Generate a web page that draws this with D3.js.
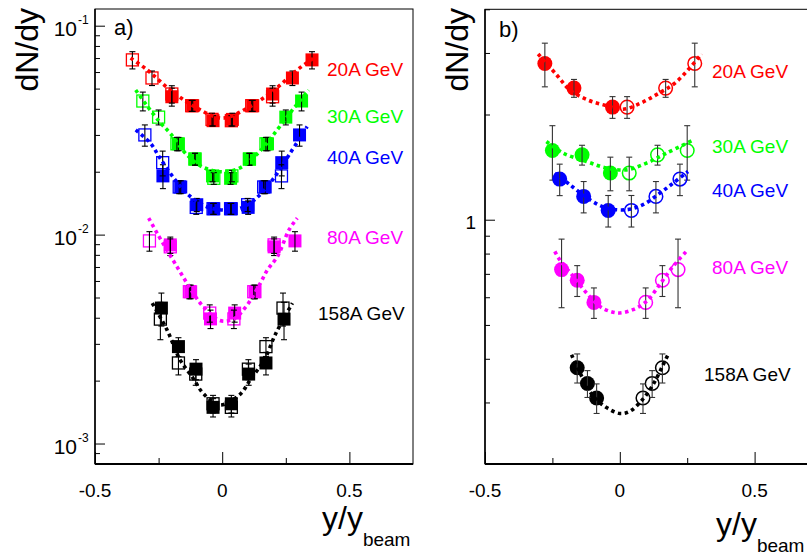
<!DOCTYPE html>
<meta charset="utf-8">
<style>
body { margin: 0; background: #fff; }
svg { display: block; font-family: "Liberation Sans", Arial, sans-serif; }
.frame { fill: none; stroke: #000; stroke-width: 1px; }
.axis path { display: none; }
.axis line { stroke: #000; stroke-width: 1px; }
.fit { fill: none; stroke-width: 3.6px; stroke-dasharray: 3.5 3.5; }
</style>
<svg width="807" height="558"></svg>
<script src="https://d3js.org/d3.v7.min.js"></script>
<script>
// ---- data ---------------------------------------------------------------
var energies = ["20A GeV", "30A GeV", "40A GeV", "80A GeV", "158A GeV"];
var colors = ["#ff0000", "#00ff00", "#0000ff", "#ff00ff", "#000000"];

// panel a) measured points (filled squares); open squares = reflection at y=0
var a_x_20 = [-0.198, -0.116, -0.036, 0.040, 0.120, 0.198, 0.276, 0.353];
var a_y_20 = [0.0457, 0.0414, 0.0351, 0.0356, 0.0414, 0.0471, 0.0562, 0.0686];
var a_e_20 = [0.0045, 0.0025, 0.0020, 0.0025, 0.0025, 0.0045, 0.0045, 0.0065];
var a_x_30 = [-0.172, -0.107, -0.038, 0.033, 0.107, 0.178, 0.250, 0.312];
var a_y_30 = [0.0272, 0.0230, 0.0191, 0.0186, 0.0230, 0.0272, 0.0365, 0.0436];
var a_e_30 = [0.0020, 0.0015, 0.0012, 0.0012, 0.0015, 0.0020, 0.0030, 0.0045];
var a_x_40 = [-0.233, -0.163, -0.100, -0.033, 0.036, 0.102, 0.169, 0.234, 0.304];
var a_y_40 = [0.0191, 0.0169, 0.0139, 0.0133, 0.0133, 0.0135, 0.0169, 0.0221, 0.0300];
var a_e_40 = [0.0025, 0.0012, 0.0010, 0.0008, 0.0008, 0.0010, 0.0012, 0.0030, 0.0035];
var a_x_80 = [-0.204, -0.124, -0.046, 0.049, 0.129, 0.204, 0.286];
var a_y_80 = [0.00893, 0.00533, 0.00395, 0.00421, 0.00533, 0.00874, 0.00933];
var a_e_80 = [0.0008, 0.0004, 0.0004, 0.0004, 0.0004, 0.0008, 0.0010];
var a_x_158 = [-0.239, -0.172, -0.103, -0.036, 0.036, 0.104, 0.172, 0.243];
var a_y_158 = [0.00445, 0.00291, 0.00227, 0.00149, 0.00155, 0.00215, 0.00243, 0.00394];
var a_e_158 = [0.0008, 0.0003, 0.00025, 0.00015, 0.00015, 0.00025, 0.0003, 0.0008];

// panel a) fit curves
var a_fx_20 = [-0.36, -0.30, -0.20, -0.10, 0.00, 0.10, 0.20, 0.30, 0.36];
var a_fy_20 = [0.0700, 0.0621, 0.0488, 0.0404, 0.0361, 0.0404, 0.0488, 0.0621, 0.0700];
var a_fx_30 = [-0.34, -0.295, -0.243, -0.204, -0.139, -0.075, 0.00, 0.068, 0.146, 0.198, 0.276, 0.34];
var a_fy_30 = [0.0492, 0.0413, 0.0343, 0.0305, 0.0241, 0.0210, 0.0200, 0.0208, 0.0249, 0.0297, 0.0395, 0.0492];
var a_fx_40 = [-0.34, -0.282, -0.246, -0.185, -0.133, -0.061, 0.016, 0.081, 0.133, 0.198, 0.263, 0.334];
var a_fy_40 = [0.0317, 0.0274, 0.0234, 0.0183, 0.0155, 0.0136, 0.0131, 0.0135, 0.0149, 0.0183, 0.0241, 0.0329];
var a_fx_80 = [-0.289, -0.256, -0.178, -0.114, -0.075, -0.010, 0.042, 0.094, 0.146, 0.178, 0.217, 0.263, 0.295];
var a_fy_80 = [0.0120, 0.01016, 0.00703, 0.00525, 0.00453, 0.00388, 0.00393, 0.00453, 0.00574, 0.00678, 0.00785, 0.01055, 0.0120];
var a_fx_158 = [-0.275, -0.217, -0.165, -0.114, -0.075, -0.010, 0.068, 0.114, 0.165, 0.211, 0.276];
var a_fy_158 = [0.00470, 0.00350, 0.00251, 0.00205, 0.00174, 0.00153, 0.00171, 0.00205, 0.00251, 0.00337, 0.00470];

// panel b) measured points (filled circles); open circles = reflection at y=0
var b_x_20 = [-0.278, -0.170, -0.027];
var b_y_20 = [2.80, 2.38, 2.10];
var b_e_20 = [0.40, 0.14, 0.15];
var b_x_30 = [-0.250, -0.140, -0.035];
var b_y_30 = [1.578, 1.533, 1.36];
var b_e_30 = [0.28, 0.10, 0.15];
var b_x_40 = [-0.223, -0.134, -0.043];
var b_y_40 = [1.307, 1.166, 1.063];
var b_e_40 = [0.135, 0.12, 0.11];
var b_x_80 = [-0.216, -0.158, -0.096];
var b_y_80 = [0.72, 0.671, 0.58];
var b_e_80 = [0.16, 0.068, 0.058];
var b_x_158 = [-0.158, -0.120, -0.086];
var b_y_158 = [0.377, 0.340, 0.309];
var b_e_158 = [0.036, 0.030, 0.030];

// panel b) fit curves
var b_fx_20 = [-0.303, -0.235, -0.185, -0.118, -0.049, 0.012, 0.074, 0.136, 0.21, 0.303];
var b_fy_20 = [2.98, 2.60, 2.35, 2.20, 2.12, 2.07, 2.15, 2.28, 2.48, 2.98];
var b_fx_30 = [-0.272, -0.21, -0.124, -0.049, 0.025, 0.099, 0.173, 0.272];
var b_fy_30 = [1.674, 1.55, 1.468, 1.405, 1.389, 1.452, 1.55, 1.69];
var b_fx_40 = [-0.241, -0.185, -0.111, -0.049, 0.025, 0.086, 0.148, 0.198, 0.253];
var b_fy_40 = [1.36, 1.259, 1.14, 1.08, 1.068, 1.104, 1.19, 1.273, 1.374];
var b_fx_80 = [-0.241, -0.223, -0.173, -0.124, -0.074, -0.037, 0.00, 0.049, 0.099, 0.148, 0.198, 0.247];
var b_fy_80 = [0.812, 0.768, 0.689, 0.618, 0.565, 0.547, 0.541, 0.553, 0.584, 0.652, 0.736, 0.812];
var b_fx_158 = [-0.179, -0.148, -0.099, -0.049, 0.00, 0.037, 0.08, 0.124, 0.161, 0.179];
var b_fy_158 = [0.411, 0.365, 0.313, 0.290, 0.279, 0.283, 0.303, 0.338, 0.385, 0.411];

var xMajor = [-0.5, 0, 0.5];
var xMinor = [-0.25, 0.25];
var xTickLabels = ["-0.5", "0", "0.5"];
var a_yMajor = [0.1, 0.01, 0.001];
var a_yExp = ["-1", "-2", "-3"];
var b_yMajor = [1];
var b_yLabels = ["1"];
var a_labelY = [0.062, 0.037, 0.0235, 0.0097, 0.0042];   // label vertical positions (data units)
var b_labelY = [2.65, 1.62, 1.21, 0.73, 0.36];

var aSeries = [
  {x: a_x_20, y: a_y_20, e: a_e_20, fx: a_fx_20, fy: a_fy_20},
  {x: a_x_30, y: a_y_30, e: a_e_30, fx: a_fx_30, fy: a_fy_30},
  {x: a_x_40, y: a_y_40, e: a_e_40, fx: a_fx_40, fy: a_fy_40},
  {x: a_x_80, y: a_y_80, e: a_e_80, fx: a_fx_80, fy: a_fy_80},
  {x: a_x_158, y: a_y_158, e: a_e_158, fx: a_fx_158, fy: a_fy_158}
];
var bSeries = [
  {x: b_x_20, y: b_y_20, e: b_e_20, fx: b_fx_20, fy: b_fy_20},
  {x: b_x_30, y: b_y_30, e: b_e_30, fx: b_fx_30, fy: b_fy_30},
  {x: b_x_40, y: b_y_40, e: b_e_40, fx: b_fx_40, fy: b_fy_40},
  {x: b_x_80, y: b_y_80, e: b_e_80, fx: b_fx_80, fy: b_fy_80},
  {x: b_x_158, y: b_y_158, e: b_e_158, fx: b_fx_158, fy: b_fy_158}
];

// ---- layout -------------------------------------------------------------
var svg = d3.select("svg");

var xa = d3.scaleLinear().domain([-0.5, 0.75]).range([95, 413]);
var ya = d3.scaleLog().domain([0.000798, 0.1202]).range([464, 9]);
var xb = d3.scaleLinear().domain([-0.5, 0.75]).range([485, 822]);
var yb = d3.scaleLog().domain([0.2, 4]).range([464, 9.3]);

function minorLog(scale) {
  var d = scale.domain(), out = [];
  for (var p = Math.floor(Math.log10(d[0])); p <= Math.ceil(Math.log10(d[1])); p++) {
    for (var m = 2; m <= 9; m++) {
      var v = m * Math.pow(10, p);
      if (v >= d[0] && v <= d[1]) out.push(v);
    }
  }
  return out;
}

function drawPanel(x, y, yMajor, series, opts) {
  var g = svg.append("g");
  var x0 = x.range()[0], x1 = x.range()[1], y0 = y.range()[0], y1 = y.range()[1];

  g.append("rect").attr("class", "frame")
      .attr("x", x0).attr("y", y1).attr("width", x1 - x0).attr("height", y0 - y1);

  // x ticks
  g.append("g").attr("class", "axis").attr("transform", "translate(0," + y0 + ")")
      .call(d3.axisTop(x).tickValues(xMajor).tickSize(12).tickFormat(""));
  g.append("g").attr("class", "axis").attr("transform", "translate(0," + y0 + ")")
      .call(d3.axisTop(x).tickValues(xMinor).tickSize(6).tickFormat(""));
  // y ticks
  g.append("g").attr("class", "axis").attr("transform", "translate(" + x0 + ",0)")
      .call(d3.axisRight(y).tickValues(yMajor).tickSize(10).tickFormat(""));
  g.append("g").attr("class", "axis").attr("transform", "translate(" + x0 + ",0)")
      .call(d3.axisRight(y).tickValues(minorLog(y)).tickSize(5).tickFormat(""));

  // axis lines (left and bottom are drawn heavier)
  g.append("line").attr("x1", x0).attr("x2", x1).attr("y1", y0).attr("y2", y0)
      .attr("stroke", "#000").attr("stroke-width", 2);
  g.append("line").attr("x1", x0).attr("x2", x0).attr("y1", y1).attr("y2", y0)
      .attr("stroke", "#000").attr("stroke-width", 1.5);

  g.selectAll(".xlab").data(xMajor).enter().append("text")
      .attr("x", function(d) { return x(d); })
      .attr("y", 497)
      .attr("text-anchor", "middle")
      .style("font-size", "19px")
      .text(function(d, i) { return xTickLabels[i]; });

  var line = d3.line().curve(d3.curveCatmullRom.alpha(0.5))
      .x(function(d) { return x(d[0]); })
      .y(function(d) { return y(d[1]); });

  series.forEach(function(s, k) {
    var col = colors[k];
    var pts = s.x.map(function(v, i) { return {x: v, y: s.y[i], e: s.e[i]}; });
    var refl = pts.map(function(p) { return {x: -p.x, y: p.y, e: p.e}; });
    var sg = g.append("g");

    if (opts.square) {
      sg.selectAll(".open").data(refl).enter().append("rect")
          .attr("x", function(d) { return x(d.x) - 6; })
          .attr("y", function(d) { return y(d.y) - 6; })
          .attr("width", 12).attr("height", 12)
          .attr("fill", "none").attr("stroke", col).attr("stroke-width", 1.3);
      sg.selectAll(".full").data(pts).enter().append("rect")
          .attr("x", function(d) { return x(d.x) - 6.5; })
          .attr("y", function(d) { return y(d.y) - 6.5; })
          .attr("width", 13).attr("height", 13)
          .attr("fill", col);
    } else {
      sg.selectAll(".open").data(refl).enter().append("circle")
          .attr("cx", function(d) { return x(d.x); })
          .attr("cy", function(d) { return y(d.y); })
          .attr("r", 6.8)
          .attr("fill", "none").attr("stroke", col).attr("stroke-width", 1.5);
      sg.selectAll(".full").data(pts).enter().append("circle")
          .attr("cx", function(d) { return x(d.x); })
          .attr("cy", function(d) { return y(d.y); })
          .attr("r", 7.5)
          .attr("fill", col);
    }

    // error bars
    var all = pts.concat(refl);
    var eb = sg.selectAll(".err").data(all).enter().append("g")
        .attr("stroke", opts.errColor).attr("stroke-width", 1.1);
    eb.append("line")
        .attr("x1", function(d) { return x(d.x); }).attr("x2", function(d) { return x(d.x); })
        .attr("y1", function(d) { return y(d.y + d.e); }).attr("y2", function(d) { return y(d.y - d.e); });
    eb.append("line")
        .attr("x1", function(d) { return x(d.x) - 3; }).attr("x2", function(d) { return x(d.x) + 3; })
        .attr("y1", function(d) { return y(d.y + d.e); }).attr("y2", function(d) { return y(d.y + d.e); });
    eb.append("line")
        .attr("x1", function(d) { return x(d.x) - 3; }).attr("x2", function(d) { return x(d.x) + 3; })
        .attr("y1", function(d) { return y(d.y - d.e); }).attr("y2", function(d) { return y(d.y - d.e); });

    // fit curve
    sg.append("path").attr("class", "fit")
        .attr("stroke", col)
        .attr("d", line(s.fx.map(function(v, i) { return [v, s.fy[i]]; })));

    // energy label
    sg.append("text")
        .attr("x", opts.labelX[k])
        .attr("y", y(opts.labelY[k]))
        .attr("dy", "0.35em")
        .attr("fill", col)
        .style("font-size", "19px")
        .text(energies[k]);
  });
  return g;
}

var ga = drawPanel(xa, ya, a_yMajor, aSeries,
    {square: true, errColor: "#000", labelX: [327, 327, 327, 327, 318], labelY: a_labelY});
var gb = drawPanel(xb, yb, b_yMajor, bSeries,
    {square: false, errColor: "#333", labelX: [712, 712, 712, 712, 704], labelY: b_labelY});

// y tick labels, panel a: 10^n
a_yMajor.forEach(function(v, i) {
  ga.append("text").attr("x", 77).attr("y", ya(v) + 10)
      .attr("text-anchor", "end").style("font-size", "21px").text("10");
  ga.append("text").attr("x", 78).attr("y", ya(v) - 1.5)
      .style("font-size", "12px").text(a_yExp[i]);
});
b_yMajor.forEach(function(v, i) {
  gb.append("text").attr("x", 476).attr("y", yb(v) + 9)
      .attr("text-anchor", "end").style("font-size", "19px").text(b_yLabels[i]);
});

// panel letters
ga.append("text").attr("x", 114).attr("y", 35).style("font-size", "22px").text("a)");
gb.append("text").attr("x", 499).attr("y", 37).style("font-size", "22px").text("b)");

// axis titles
function yTitle(g, xpos) {
  g.append("text")
      .attr("transform", "translate(" + xpos + ",8) rotate(-90)")
      .attr("text-anchor", "end")
      .style("font-size", "32px")
      .text("dN/dy");
}
yTitle(ga, 38);
yTitle(gb, 468);

function xTitle(g, xpos, ypos) {
  var t = g.append("text").attr("x", xpos).attr("y", ypos).style("font-size", "32px");
  t.append("tspan").text("y/y");
  t.append("tspan").attr("dy", 17).style("font-size", "19px").text("beam");
}
xTitle(ga, 322, 529);
xTitle(gb, 716, 535);
</script>
